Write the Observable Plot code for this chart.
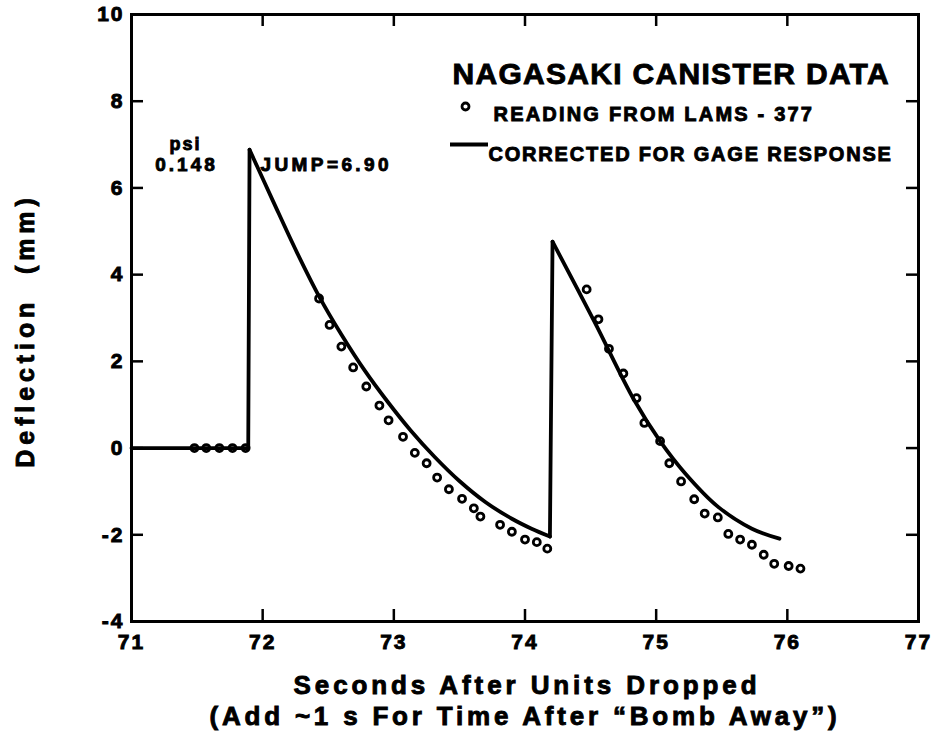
<!DOCTYPE html>
<html><head><meta charset="utf-8">
<script src="https://cdn.jsdelivr.net/npm/d3@7"></script>
<script src="https://cdn.jsdelivr.net/npm/@observablehq/plot@0.6"></script>
<style>body{margin:0;background:#fff}</style>
</head><body><div id="chart"></div>
<script>
// Readings from LAMS-377 (open circles)
const readT = [71.48, 71.57, 71.67, 71.77, 71.87,
  72.43, 72.51, 72.60, 72.69, 72.79, 72.89, 72.96, 73.07, 73.16, 73.25, 73.33, 73.42, 73.52, 73.61, 73.66, 73.81, 73.90, 74.00, 74.09, 74.17,
  74.47, 74.56, 74.64, 74.75, 74.85, 74.91, 75.03, 75.10, 75.19, 75.29, 75.37, 75.47, 75.55, 75.64, 75.73, 75.82, 75.90, 76.01, 76.10];
const readV = [0, 0, 0, 0, 0,
  3.45, 2.84, 2.34, 1.86, 1.42, 0.98, 0.64, 0.26, -0.11, -0.35, -0.68, -0.95, -1.17, -1.39, -1.58, -1.77, -1.93, -2.11, -2.17, -2.32,
  3.66, 2.97, 2.29, 1.72, 1.15, 0.58, 0.16, -0.35, -0.77, -1.18, -1.51, -1.60, -1.98, -2.11, -2.23, -2.46, -2.67, -2.72, -2.78];

// Corrected for gage response (solid line)
const baseT = [71.0, 71.89, 71.90];
const baseV = [0, 0, 6.88];
const decay1T = [71.90, 72.08, 72.26, 72.43, 72.60, 72.78, 72.95, 73.13, 73.31, 73.50, 73.70, 73.90, 74.05, 74.19];
const decay1V = [6.88, 5.69, 4.52, 3.50, 2.62, 1.78, 1.08, 0.40, -0.20, -0.76, -1.25, -1.63, -1.86, -2.04];
const jumpT = [74.19, 74.21];
const jumpV = [-2.04, 4.76];
const decay2T = [74.21, 74.53, 74.83, 75.03, 75.22, 75.47, 75.73, 75.94];
const decay2V = [4.76, 2.91, 1.12, 0.16, -0.58, -1.35, -1.86, -2.09];

// Axes
const xDomain = [71, 77];
const yDomain = [-4, 10];
const xTickValues = [71, 72, 73, 74, 75, 76, 77];
const yTickValues = [-4, -2, 0, 2, 4, 6, 8, 10];
const xInnerTicks = [72, 73, 74, 75, 76];
const yInnerTicks = [-2, 0, 2, 4, 6, 8];

const titleText = "NAGASAKI CANISTER DATA";
const legendRead = "READING FROM LAMS - 377";
const legendLine = "CORRECTED FOR GAGE RESPONSE";
const unitText = "psi";
const psiText = "0.148";
const jumpText = "JUMP=6.90";
const xTitle1 = "Seconds After Units Dropped";
const xTitle2 = "(Add ~1 s For Time After \u201CBomb Away\u201D)";
const yTitle = "Deflection  (mm)";

const zip = (a, b) => a.map((t, i) => ({t, v: b[i]}));
const readings = zip(readT, readV);

const W = 936, H = 754, mL = 131, mR = 18, mT = 14, mB = 133;
const plotW = W - mL - mR, plotH = H - mT - mB;
const tickLen = 12;

const chart = Plot.plot({
  width: W, height: H,
  marginLeft: mL, marginRight: mR, marginTop: mT, marginBottom: mB,
  x: {domain: xDomain},
  y: {domain: yDomain},
  style: {fontFamily: "'Liberation Sans', Arial, sans-serif", fontWeight: "bold", color: "black", background: "white", letterSpacing: "2px"},
  marks: [
    Plot.frame({stroke: "black", strokeWidth: 3}),
    Plot.ruleX(xInnerTicks, {x: d => d, insetTop: plotH - tickLen, strokeWidth: 2.5}),
    Plot.ruleX(xInnerTicks, {x: d => d, insetBottom: plotH - tickLen, strokeWidth: 2.5}),
    Plot.ruleY(yInnerTicks, {y: d => d, insetRight: plotW - tickLen, strokeWidth: 2.5}),
    Plot.ruleY(yInnerTicks, {y: d => d, insetLeft: plotW - tickLen, strokeWidth: 2.5}),
    Plot.axisX(xTickValues, {tickSize: 0, tickPadding: 13, fontSize: 21, label: null, tickFormat: d => String(d)}),
    Plot.axisY(yTickValues, {tickSize: 0, tickPadding: 7, fontSize: 21, label: null, tickFormat: d => String(d)}),
    Plot.line(zip(baseT, baseV), {x: "t", y: "v", stroke: "black", strokeWidth: 3.8}),
    Plot.line(zip(jumpT, jumpV), {x: "t", y: "v", stroke: "black", strokeWidth: 3.8}),
    Plot.line(zip(decay1T, decay1V), {x: "t", y: "v", stroke: "black", strokeWidth: 3.8, curve: "catmull-rom"}),
    Plot.line(zip(decay2T, decay2V), {x: "t", y: "v", stroke: "black", strokeWidth: 3.8, curve: "catmull-rom"}),
    Plot.dot(readings, {x: "t", y: "v", r: 3.5, stroke: "black", strokeWidth: 2.8, fill: "none"}),
    // legend & annotations
    Plot.text([titleText], {frameAnchor: "top-left", textAnchor: "start", dx: 321, dy: 48.4, fontSize: 30}),
    Plot.dot([0], {x: null, y: null, frameAnchor: "top-left", dx: 334, dy: 92, r: 3.5, stroke: "black", strokeWidth: 2.8, fill: "none"}),
    Plot.text([legendRead], {frameAnchor: "top-left", textAnchor: "start", dx: 362, dy: 92.6, fontSize: 20}),
    Plot.ruleY([yDomain[1]], {y: d => d, dy: 130, insetLeft: 319, insetRight: 430, strokeWidth: 3.8}),
    Plot.text([legendLine], {frameAnchor: "top-left", textAnchor: "start", dx: 357, dy: 132.6, fontSize: 20}),
    Plot.text([unitText], {frameAnchor: "top-left", textAnchor: "middle", dx: 54, dy: 123, fontSize: 18}),
    Plot.text([psiText], {frameAnchor: "top-left", textAnchor: "middle", dx: 55, dy: 143, fontSize: 19}),
    Plot.text([jumpText], {frameAnchor: "top-left", textAnchor: "start", dx: 129, dy: 143, fontSize: 19}),
    // axis titles
    Plot.text([xTitle1], {frameAnchor: "bottom", dx: 2, dy: 72.4, fontSize: 26}),
    Plot.text([xTitle2], {frameAnchor: "bottom", dx: 0, dy: 103.7, fontSize: 26}),
    Plot.text([yTitle], {frameAnchor: "left", textAnchor: "middle", dx: -106, dy: 12.5, fontSize: 25, rotate: -90})
  ]
});

const spacing = {};
spacing[titleText] = 1.3;
spacing[legendRead] = 2.2;
spacing[legendLine] = 1.8;
spacing[unitText] = 2;
spacing[psiText] = 3;
spacing[jumpText] = 3.4;
spacing[xTitle1] = 3.9;
spacing[xTitle2] = 3.8;
spacing[yTitle] = 4.9;
d3.select(chart).selectAll("text").each(function() {
  const s = spacing[this.textContent];
  if (s !== undefined) this.setAttribute("letter-spacing", s + "px");
  this.setAttribute("stroke", "black");
  this.setAttribute("stroke-width", "0.9");
});
document.getElementById("chart").appendChild(chart);
</script>
</body></html>
